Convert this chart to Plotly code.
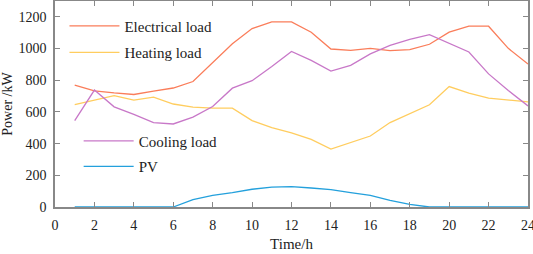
import plotly.graph_objects as go

hours = list(range(1, 25))
electrical = [769, 733, 720, 710, 731, 751, 792, 909, 1030, 1126, 1168, 1168,
              1103, 997, 989, 1001, 987, 993, 1027, 1103, 1141, 1141, 1001, 902]
heating = [646, 676, 703, 674, 693, 650, 630, 624, 624, 545, 501, 468,
           427, 366, 406, 448, 533, 588, 645, 760, 718, 687, 676, 663]
cooling = [545, 738, 632, 585, 532, 524, 567, 634, 750, 797, 887, 982,
           925, 858, 894, 966, 1020, 1058, 1088, 1031, 978, 840, 735, 638]
pv = [0, 0, 0, 0, 0, 0, 47, 74, 91, 112, 125, 128,
      120, 110, 91, 74, 42, 16, 0, 0, 0, 0, 0, 0]

names = ["Electrical load", "Heating load", "Cooling load", "PV"]
colors = ["rgb(250,125,90)", "rgb(255,205,95)", "rgb(200,120,200)", "rgb(35,160,220)"]
series = [electrical, heating, cooling, pv]
legends = ["legend", "legend", "legend2", "legend2"]

fig = go.Figure()
for n, c, s, lg in zip(names, colors, series, legends):
    fig.add_trace(go.Scatter(x=hours, y=s, mode="lines", name=n, legendgroup=n,
                             line=dict(color=c, width=1.3), legend=lg))

font = dict(family="Liberation Serif", size=15, color="#222222")
tfont = dict(family="Liberation Serif", size=14, color="#222222")
axis_common = dict(showline=True, linecolor="#888888", linewidth=1.5, mirror="ticks",
                   ticks="inside", ticklen=5, tickcolor="#888888", tickwidth=1,
                   showgrid=False, zeroline=False, tickfont=tfont, ticklabelstandoff=4,
                   ticklabeloverflow="allow")

fig.update_layout(
    width=533, height=254,
    margin=dict(l=55, r=5, t=1, b=47, autoexpand=False),
    plot_bgcolor="white", paper_bgcolor="white",
    font=font,
    xaxis=dict(range=[0, 24], dtick=2, title=dict(text="Time/h", font=font, standoff=7),
               **axis_common),
    yaxis=dict(range=[0, 1300], tickvals=[0, 200, 400, 600, 800, 1000, 1200],
               title=dict(text="Power /kW", font=tfont, standoff=4),
               **axis_common),
    legend=dict(x=0.02, y=0.958, xanchor="left", yanchor="top", bgcolor="rgba(0,0,0,0)",
                font=font, itemwidth=50, tracegroupgap=4),
    legend2=dict(x=0.05, y=0.40, xanchor="left", yanchor="top", bgcolor="rgba(0,0,0,0)",
                 font=font, itemwidth=50, tracegroupgap=3),
)

fig.write_html("out.html", config={"displayModeBar": False},
               post_script="document.body.style.margin='0';document.body.style.overflow='hidden';")
